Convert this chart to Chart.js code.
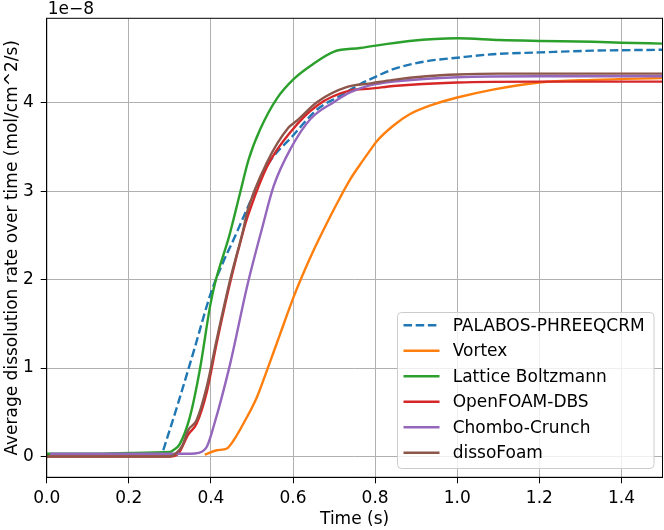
<!DOCTYPE html>
<html>
<head>
<meta charset="utf-8">
<script src="https://cdn.jsdelivr.net/npm/chart.js@4.4.1/dist/chart.umd.min.js"></script>
<style>
  html, body { margin: 0; padding: 0; background: #fff; }
  #wrap { position: relative; width: 664px; height: 530px; }
</style>
</head>
<body>
<div id="wrap"><canvas id="rateChart"></canvas></div>
<script>
// values are in units of 1e-8 mol/cm^2/s
const palabosTime = [0.284, 0.32, 0.36, 0.40, 0.43, 0.455, 0.488, 0.537, 0.60, 0.66, 0.716, 0.763, 0.79, 0.844, 0.925, 1.0, 1.087, 1.2, 1.33, 1.5];
const palabosRate = [0.07, 0.6, 1.22, 1.85, 2.2, 2.45, 2.80, 3.29, 3.63, 3.93, 4.08, 4.21, 4.27, 4.38, 4.47, 4.51, 4.55, 4.57, 4.59, 4.60];

const vortexTime = [0.385, 0.414, 0.439, 0.455, 0.479, 0.512, 0.537, 0.569, 0.602, 0.626, 0.651, 0.675, 0.708, 0.74, 0.763, 0.789, 0.803, 0.844, 0.884, 0.941, 1.0, 1.087, 1.2, 1.33, 1.5];
const vortexRate = [0.02, 0.07, 0.09, 0.18, 0.37, 0.67, 0.98, 1.39, 1.81, 2.08, 2.34, 2.57, 2.87, 3.14, 3.30, 3.47, 3.56, 3.74, 3.87, 3.98, 4.06, 4.15, 4.23, 4.26, 4.28];

const latticeTime = [0, 0.1, 0.2, 0.3, 0.308, 0.324, 0.349, 0.373, 0.398, 0.41, 0.445, 0.471, 0.492, 0.52, 0.561, 0.602, 0.643, 0.70, 0.763, 0.884, 1.0, 1.103, 1.2, 1.33, 1.4, 1.5];
const latticeRate = [0.03, 0.03, 0.04, 0.05, 0.07, 0.14, 0.45, 0.98, 1.70, 1.96, 2.50, 2.98, 3.36, 3.70, 4.05, 4.27, 4.42, 4.58, 4.62, 4.70, 4.73, 4.71, 4.70, 4.69, 4.68, 4.67];

const openfoamTime = [0, 0.3, 0.32, 0.345, 0.365, 0.39, 0.414, 0.447, 0.479, 0.49, 0.537, 0.594, 0.659, 0.74, 0.789, 0.844, 1.0, 1.2, 1.5];
const openfoamRate = [0, 0, 0.03, 0.25, 0.37, 0.73, 1.28, 1.97, 2.55, 2.72, 3.28, 3.67, 3.97, 4.14, 4.16, 4.19, 4.23, 4.24, 4.24];

const chomboTime = [0.008, 0.2, 0.35, 0.37, 0.39, 0.406, 0.447, 0.488, 0.524, 0.553, 0.594, 0.643, 0.70, 0.74, 0.789, 0.844, 1.0, 1.2, 1.5];
const chomboRate = [0.03, 0.03, 0.03, 0.04, 0.11, 0.33, 1.05, 1.92, 2.57, 3.06, 3.48, 3.82, 4.01, 4.12, 4.20, 4.24, 4.29, 4.30, 4.30];

const dissoTime = [0, 0.3, 0.316, 0.33, 0.345, 0.365, 0.39, 0.414, 0.447, 0.479, 0.488, 0.537, 0.589, 0.61, 0.659, 0.732, 0.789, 0.844, 0.925, 1.0, 1.1, 1.5];
const dissoRate = [0, 0, 0.04, 0.12, 0.30, 0.41, 0.79, 1.32, 2.0, 2.57, 2.76, 3.33, 3.72, 3.80, 4.01, 4.18, 4.22, 4.26, 4.30, 4.32, 4.33, 4.33];

const seriesLabels = ["PALABOS-PHREEQCRM", "Vortex", "Lattice Boltzmann", "OpenFOAM-DBS", "Chombo-Crunch", "dissoFoam"];
const seriesColors = ["#1f77b4", "#ff7f0e", "#2ca02c", "#d62728", "#9467bd", "#8c564b"];

const xMin = 0, xMax = 1.5, xStep = 0.2;
const yMin = -0.236, yMax = 4.956, yStep = 1;
const offsetLabel = "1e\u22128";

const FONT = "'DejaVu Sans', 'Liberation Sans', sans-serif";
const FONT_SIZE = 17;
const LINE_W = 2.4;

function toPoints(ts, vs) {
  return ts.map((t, i) => ({ x: t, y: vs[i] }));
}

const seriesData = [
  toPoints(palabosTime, palabosRate),
  toPoints(vortexTime, vortexRate),
  toPoints(latticeTime, latticeRate),
  toPoints(openfoamTime, openfoamRate),
  toPoints(chomboTime, chomboRate),
  toPoints(dissoTime, dissoRate)
];

const datasets = seriesData.map((pts, i) => ({
  label: seriesLabels[i],
  data: pts,
  borderColor: seriesColors[i],
  backgroundColor: seriesColors[i],
  borderWidth: LINE_W,
  borderDash: i === 0 ? [8.5, 3.7] : [],
  pointRadius: 0,
  cubicInterpolationMode: "monotone",
  fill: false,
  order: seriesLabels.length - i   // later series drawn on top, like matplotlib
}));

// frame, offset text and the boxed legend inside the plot
const decorations = {
  id: "decorations",
  afterDraw(chart) {
    const ctx = chart.ctx;
    const a = chart.chartArea;
    ctx.save();

    ctx.strokeStyle = "#000";
    ctx.lineWidth = 1;
    ctx.strokeRect(a.left, a.top, a.right - a.left, a.bottom - a.top);

    ctx.fillStyle = "#000";
    ctx.font = FONT_SIZE + "px " + FONT;
    ctx.textAlign = "left";
    ctx.textBaseline = "alphabetic";
    ctx.fillText(offsetLabel, a.left + 1, a.top - 4);

    const bx = 397.5, by = 312.5, bw = 256.5, bh = 156;
    ctx.beginPath();
    ctx.roundRect(bx, by, bw, bh, 4);
    ctx.fillStyle = "rgba(255,255,255,0.8)";
    ctx.fill();
    ctx.strokeStyle = "#cccccc";
    ctx.lineWidth = 1;
    ctx.stroke();

    ctx.textBaseline = "middle";
    chart.data.datasets.forEach((ds, i) => {
      const y = 325.3 + i * 25.5;
      ctx.beginPath();
      ctx.setLineDash(ds.borderDash);
      ctx.strokeStyle = ds.borderColor;
      ctx.lineWidth = LINE_W;
      ctx.moveTo(403.5, y);
      ctx.lineTo(439.5, y);
      ctx.stroke();
      ctx.setLineDash([]);
      ctx.fillStyle = "#000";
      ctx.fillText(ds.label, 452.7, y + 1);
    });
    ctx.restore();
  }
};

Chart.defaults.font.family = FONT;
Chart.defaults.font.size = FONT_SIZE;
Chart.defaults.color = "#000";

new Chart(document.getElementById("rateChart").getContext("2d"), {
  type: "line",
  data: { datasets },
  options: {
    responsive: true,
    maintainAspectRatio: false,
    animation: false,
    layout: { padding: { left: 0, right: 1.5, top: 18.3, bottom: 0 } },
    plugins: {
      legend: { display: false },
      tooltip: { enabled: false }
    },
    scales: {
      x: {
        type: "linear",
        min: xMin,
        max: xMax,
        afterFit: s => { s.height = 52.7; },
        ticks: {
          stepSize: xStep,
          includeBounds: false,
          padding: 5,
          maxRotation: 0,
          callback: v => v.toFixed(1)
        },
        grid: { color: "#b0b0b0", lineWidth: 1, tickColor: "#000", tickLength: 6 },
        border: { color: "#000", width: 1 },
        title: { display: true, text: "Time (s)", padding: { top: 4, bottom: 0 } }
      },
      y: {
        type: "linear",
        min: yMin,
        max: yMax,
        afterFit: s => { s.width = 46.7; },
        ticks: {
          stepSize: yStep,
          includeBounds: false,
          padding: 7,
          callback: v => String(v)
        },
        grid: { color: "#b0b0b0", lineWidth: 1, tickColor: "#000", tickLength: 6 },
        border: { color: "#000", width: 1 },
        title: { display: true, text: "Average dissolution rate over time (mol/cm^2/s)", padding: { top: 2, bottom: 4 } }
      }
    }
  },
  plugins: [decorations]
});
</script>
</body>
</html>
